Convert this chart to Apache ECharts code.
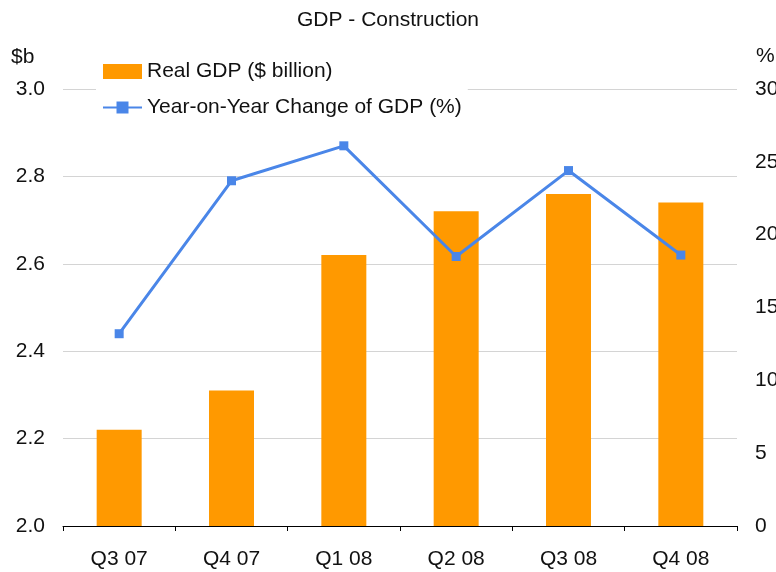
<!DOCTYPE html>
<html>
<head>
<meta charset="utf-8">
<script src="https://cdn.jsdelivr.net/npm/echarts@6/dist/echarts.min.js"></script>
<style>
  html, body { margin: 0; padding: 0; background: #fff; }
  #main { width: 776px; height: 572px; }
</style>
</head>
<body>
<div id="main"></div>
<script>
// data
var quarters = ['Q3 07', 'Q4 07', 'Q1 08', 'Q2 08', 'Q3 08', 'Q4 08'];
var realGdp = [2.22, 2.31, 2.62, 2.72, 2.76, 2.74];      // $ billion
var yoyChange = [13.2, 23.7, 26.1, 18.5, 24.4, 18.6];    // %

var font = 'Liberation Sans';
var fs = 21;
var chart = echarts.init(document.getElementById('main'));

var option = {
    backgroundColor: '#fff',
    textStyle: { fontFamily: font },
    title: {
        text: 'GDP - Construction',
        left: 'center',
        top: 5,
        textStyle: { fontSize: fs, fontWeight: 'normal', color: '#111', fontFamily: font }
    },
    legend: {
        orient: 'vertical',
        left: 96,
        top: 57,
        itemWidth: 39,
        itemHeight: 15,
        itemGap: 15,
        backgroundColor: '#fff',
        padding: [4, 6, 4, 6],
        textStyle: { fontSize: fs, color: '#111', fontFamily: font },
        data: [
            { name: 'Real GDP ($ billion)', icon: 'rect' },
            { name: 'Year-on-Year Change of GDP (%)' }
        ]
    },
    grid: { left: 63, right: 39, top: 89, bottom: 46, containLabel: false, outerBoundsMode: 'none' },
    xAxis: {
        type: 'category',
        data: quarters,
        axisLine: { lineStyle: { color: '#000', width: 1 } },
        axisTick: { show: true, length: 5, lineStyle: { color: '#000' } },
        axisLabel: { fontSize: fs, color: '#111', margin: 23, fontFamily: font }
    },
    yAxis: [
        {
            type: 'value',
            min: 2.0,
            max: 3.0,
            interval: 0.2,
            axisLine: { show: false },
            axisTick: { show: false },
            axisLabel: {
                fontSize: fs, color: '#111', margin: 18, fontFamily: font,
                formatter: function (v) { return v.toFixed(1); }
            },
            splitLine: { lineStyle: { color: '#d4d4d4', width: 1 } }
        },
        {
            type: 'value',
            min: 0,
            max: 30,
            interval: 5,
            axisLine: { show: false },
            axisTick: { show: false },
            axisLabel: { fontSize: fs, color: '#111', margin: 18, fontFamily: font },
            splitLine: { show: false }
        }
    ],
    graphic: [
        { type: 'text', left: 11, top: 47, style: { text: '$b', fontSize: fs, fill: '#111', fontFamily: font } },
        { type: 'text', left: 756, top: 46, style: { text: '%', fontSize: fs, fill: '#111', fontFamily: font } }
    ],
    series: [
        {
            name: 'Real GDP ($ billion)',
            type: 'bar',
            data: realGdp,
            barWidth: 45,
            itemStyle: { color: '#ff9900' },
            z: 1
        },
        {
            name: 'Year-on-Year Change of GDP (%)',
            type: 'line',
            yAxisIndex: 1,
            data: yoyChange,
            symbol: 'rect',
            symbolSize: 9,
            lineStyle: { color: '#4a86e8', width: 3 },
            itemStyle: { color: '#4a86e8' },
            z: 3
        }
    ]
};

chart.setOption(option);
</script>
</body>
</html>
